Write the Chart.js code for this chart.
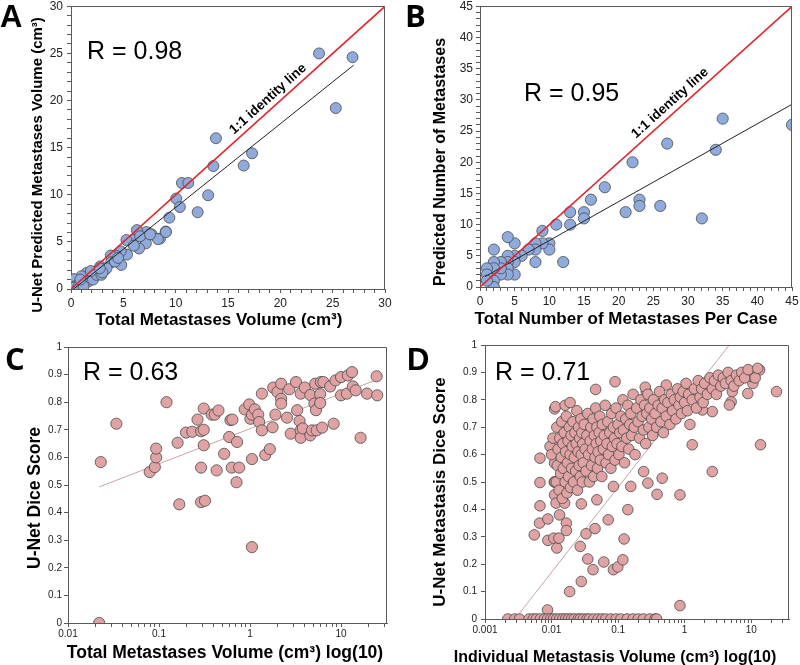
<!DOCTYPE html>
<html lang="en">
<head>
<meta charset="UTF-8">
<title>U-Net metastasis scatter plots</title>
<script src="https://cdn.jsdelivr.net/npm/chart.js"></script>
<style>
  body { margin: 0; background: #fff; }
  #wrap { position: relative; width: 800px; height: 665px; }
  canvas { position: absolute; }
</style>
</head>
<body>
<div id="wrap">
  <canvas id="chartA" width="400" height="330" style="left:0;top:0"></canvas>
  <canvas id="chartB" width="400" height="330" style="left:400px;top:0"></canvas>
  <canvas id="chartC" width="400" height="335" style="left:0;top:330px"></canvas>
  <canvas id="chartD" width="400" height="335" style="left:400px;top:330px"></canvas>
</div>
<script>
const FONT = 'Arial, "Liberation Sans", sans-serif';
const BLUE = '#8faadc', PINK = '#e0a2a2', EDGE = '#4a4a4a', AXIS = '#5a5a5a';

// A: total volume per case [true cm3, predicted cm3]
const volPoints = [[23.7,25.0],[26.9,24.6],[25.3,19.2],[13.85,16.0],[13.6,13.05],[17.3,14.4],[16.5,13.1],
  [10.6,11.25],[11.2,11.25],[10.05,9.6],[10.4,8.7],[13.1,9.95],[12.1,8.15],[9.4,7.57],[9.05,6.1],[8.5,5.35],
  [7.7,5.8],[7.2,6.05],[6.3,6.25],[7.15,4.85],[6.5,4.3],[5.9,5.2],[5.3,5.2],[5.35,3.65],[4.8,2.55],[4.75,4.0],
  [4.35,3.5],[3.8,3.55],[3.85,2.85],[3.25,2.05],[2.8,2.4],[2.3,1.85],[1.8,1.35],[1.5,1.7],[1.0,1.35],[0.55,0.8],
  [0.3,1.05],[0.05,0],[0.4,0.3],[0.85,0.6],[1.35,0.65],[1.65,0.8],[2.1,1.0],[2.45,1.5],[2.9,1.5],[3.4,2.2],
  [4.2,2.9],[0.2,0.15],[0.7,0.25],[1.2,0.3],[6.0,4.6],[8.3,5.3],[6.6,5.6],[1.9,1.9],[3.0,1.75],[4.5,3.3],
  [0.9,1.0],[2.75,2.2],[7.55,5.8],[9.07,6.05]];
const volFit = [[0.25,0],[27,23.75]];
const volIdentity = [[0,0],[30,30]];

// B: number of metastases per case [true, predicted]
const countPoints = [[45,26],[35,27],[34,22],[32,11],[27,23],[22,20],[21,12],[26,13],[23,14],[23,13],[18,16],
  [16,14],[15,12],[15,11],[13,12],[13,10],[11,10],[12,4],[9,9],[10,7],[10,6],[9,7],[8,7],[8,6],[8,4],[7,6],
  [6,5],[5,7],[4,8],[5,5],[5,4],[5,2],[4,5],[4,4],[4,3],[4,2],[3,4],[3,2],[3,3],[2,6],[2,4],[2,3],[2,1],[2,0],
  [1,3],[1,2],[1,1]];
const countFit = [[0.7,1.65],[45,29.3]];
const countIdentity = [[0,0],[45,45]];

// C: dice per case vs total volume [cm3, dice]
const casePoints = [[0.022,0],[0.0229,0.583],[0.034,0.722],[0.121,0.80],[0.079,0.547],[0.090,0.565],[0.093,0.60],
  [0.093,0.632],[0.16,0.653],[0.167,0.43],[0.198,0.69],[0.232,0.693],[0.265,0.737],[0.29,0.695],[0.31,0.70],
  [0.31,0.777],[0.31,0.644],[0.29,0.563],[0.29,0.438],[0.32,0.443],[0.38,0.755],[0.41,0.755],[0.45,0.77],
  [0.43,0.553],[0.52,0.613],[0.59,0.674],[0.61,0.735],[0.64,0.737],[0.63,0.563],[0.72,0.656],[0.76,0.563],
  [0.71,0.51],[0.875,0.774],[0.98,0.792],[1.01,0.74],[1.05,0.755],[1.05,0.594],[1.05,0.275],[1.13,0.774],
  [1.23,0.755],[1.26,0.728],[1.35,0.698],[1.35,0.831],[1.47,0.609],[1.65,0.63],[1.77,0.709],[1.9,0.755],
  [1.8,0.853],[2.0,0.837],[2.2,0.867],[2.2,0.812],[2.2,0.795],[2.55,0.744],[2.7,0.847],[2.8,0.686],[3.2,0.873],
  [3.3,0.771],[3.5,0.732],[3.6,0.831],[3.6,0.698],[3.6,0.671],[3.8,0.705],[4.0,0.853],[4.6,0.826],[4.6,0.68],
  [4.8,0.698],[5.1,0.795],[5.2,0.867],[5.3,0.771],[5.4,0.698],[5.9,0.829],[5.9,0.797],[6.0,0.873],[6.2,0.708],
  [6.4,0.873],[7.6,0.857],[8.3,0.722],[8.7,0.879],[10,0.891],[10,0.825],[11.6,0.831],[11.9,0.897],[13.2,0.909],
  [13.5,0.857],[14.5,0.843],[16.4,0.671],[19.3,0.831],[24.6,0.894],[25,0.825]];
const caseFit = [[0.022,0.493],[25,0.882]];

// D: dice per lesion vs lesion volume [cm3, dice]
const lesionPoints = [[0.0055,0.307],[0.0066,0.35],[0.0067,0.413],[0.0067,0.498],[0.0067,0.587],[0.0088,0.365],
  [0.0088,0.287],[0.0087,0.033],[0.0111,0.767],[0.0115,0.775],[0.0108,0.295],[0.012,0.259],[0.0129,0.295],
  [0.0111,0.569],[0.0111,0.453],[0.0117,0.423],[0.0111,0.636],[0.0132,0.38],[0.0154,0.52],[0.0157,0.423],
  [0.0167,0.35],[0.0167,0.323],[0.0187,0.10],[0.016,0.78],[0.019,0.79],[0.028,0.137],[0.027,0.265],[0.028,0.42],
  [0.035,0.219],[0.033,0.311],[0.045,0.33],[0.042,0.18],[0.046,0.838],[0.048,0.435],[0.061,0.208],[0.071,0.362],
  [0.085,0.484],[0.085,0.18],[0.09,0.866],[0.099,0.19],[0.118,0.216],[0.123,0.292],[0.14,0.399],[0.155,0.484],
  [0.242,0.538],[0.28,0.496],[0.46,0.514],[0.385,0.455],[0.85,0.453],[0.85,0.049],[2.6,0.538],[13.8,0.636],
  [1.3,0.636],[0.53,0.854],[0.265,0.83],[0.256,0.846],[24,0.83],[11.2,0.903],[13.4,0.909],[8.9,0.823],[5.0,0.793],
  [4.7,0.781],[2.6,0.757],[1.85,0.763],[5.2,0.83],[10.6,0.86],[10,0.885],
  [0.0095,0.63],[0.010,0.6],[0.0105,0.66],[0.011,0.5],[0.0112,0.5],[0.0118,0.5],[0.012,0.7],[0.0122,0.56],
  [0.0125,0.62],[0.013,0.47],[0.0133,0.66],[0.0137,0.53],[0.014,0.59],[0.0142,0.72],[0.0145,0.44],[0.0148,0.64],
  [0.015,0.55],[0.0155,0.68],[0.016,0.5],[0.0163,0.61],[0.0167,0.74],[0.017,0.46],[0.0173,0.57],[0.0177,0.65],
  [0.018,0.52],[0.0185,0.7],[0.019,0.6],[0.0193,0.48],[0.0197,0.67],[0.02,0.55],[0.0205,0.63],[0.021,0.72],
  [0.0215,0.5],[0.022,0.59],[0.0225,0.68],[0.023,0.54],[0.0235,0.64],[0.024,0.76],[0.0245,0.47],[0.025,0.61],
  [0.0255,0.7],[0.026,0.56],[0.0265,0.66],[0.027,0.52],[0.0275,0.73],[0.028,0.6],[0.0285,0.68],[0.029,0.5],
  [0.0295,0.64],[0.03,0.57],[0.031,0.71],[0.032,0.62],[0.033,0.54],[0.034,0.67],[0.035,0.75],[0.036,0.6],
  [0.037,0.5],[0.038,0.65],[0.039,0.7],[0.04,0.56],[0.041,0.62],[0.042,0.73],[0.043,0.52],[0.044,0.67],
  [0.045,0.59],[0.046,0.77],[0.047,0.64],[0.048,0.7],[0.049,0.55],[0.05,0.61],[0.052,0.68],[0.053,0.74],
  [0.054,0.58],[0.055,0.65],[0.057,0.52],[0.058,0.71],[0.06,0.62],[0.062,0.67],[0.064,0.78],[0.066,0.57],
  [0.068,0.64],[0.07,0.72],[0.072,0.6],[0.075,0.68],[0.078,0.55],[0.08,0.75],[0.082,0.63],[0.085,0.7],
  [0.088,0.66],[0.09,0.58],[0.093,0.77],[0.096,0.64],[0.1,0.71],[0.103,0.6],[0.106,0.68],[0.11,0.74],
  [0.114,0.63],[0.118,0.8],[0.12,0.69],[0.125,0.57],[0.13,0.73],[0.135,0.66],[0.14,0.78],[0.145,0.62],
  [0.15,0.71],[0.155,0.75],[0.16,0.67],[0.168,0.82],[0.175,0.7],[0.18,0.6],[0.19,0.77],[0.2,0.72],[0.21,0.66],
  [0.22,0.8],[0.23,0.74],[0.24,0.69],[0.25,0.78],[0.26,0.64],[0.27,0.75],[0.28,0.82],[0.29,0.7],[0.3,0.77],
  [0.32,0.73],[0.33,0.67],[0.34,0.8],[0.36,0.75],[0.38,0.7],[0.4,0.78],[0.42,0.83],[0.44,0.72],[0.46,0.77],
  [0.48,0.68],[0.5,0.8],[0.53,0.74],[0.56,0.79],[0.6,0.71],[0.63,0.82],[0.66,0.76],[0.7,0.8],[0.74,0.73],
  [0.78,0.84],[0.82,0.78],[0.86,0.81],[0.9,0.75],[0.95,0.83],[1.0,0.79],[1.05,0.86],[1.1,0.76],[1.15,0.82],
  [1.2,0.71],[1.3,0.8],[1.4,0.84],[1.5,0.77],[1.6,0.87],[1.7,0.81],[1.8,0.84],[1.9,0.79],[2.0,0.86],[2.2,0.82],
  [2.4,0.88],[2.6,0.84],[2.8,0.87],[3.0,0.82],[3.2,0.89],[3.5,0.85],[3.8,0.88],[4.1,0.86],[4.5,0.9],[5.0,0.87],
  [5.5,0.85],[6.0,0.89],[6.6,0.87],[7.2,0.9],[8.0,0.88],[9.0,0.91],[11.5,0.88],[12.5,0.915]];
// lesions the network missed completely (dice = 0)
const missedVol = [0.0022,0.0028,0.0033,0.0046,0.0053,0.0059,0.0068,0.0078,0.0087,0.0097,0.0107,0.0119,0.0132,
  0.0147,0.0163,0.018,0.02,0.022,0.025,0.027,0.03,0.034,0.037,0.043,0.05,0.057,0.065,0.078,0.093,0.11,0.137,
  0.168,0.2,0.24,0.3,0.36,0.38];
const lesionFit = [[0.0033,0.021],[4.7,1.0]];

const toXY = arr => arr.map(p => ({ x: p[0], y: p[1] }));

// text drawn on each canvas: [text, x, y, font, align, rotation, baseline]
const texts = {
  chartA: [
    ['A', 0, 27, 'bold 31px ' + FONT, 'left', 0, 'alphabetic'],
    ['R = 0.98', 87, 52, '25px ' + FONT, 'left'],
    ['1:1 identity line', 268, 99, 'bold 13.5px ' + FONT, 'center', -42],
    ['Total Metastases Volume (cm³)', 219, 320, 'bold 17px ' + FONT, 'center'],
    ['U-Net Predicted Metastases Volume (cm³)', 38, 165, 'bold 15px ' + FONT, 'center', -90]
  ],
  chartB: [
    ['B', 5, 27, 'bold 31px "Open Sans", ' + FONT, 'left', 0, 'alphabetic'],
    ['R = 0.95', 124, 94, '25px ' + FONT, 'left'],
    ['1:1 identity line', 270, 103, 'bold 13.5px ' + FONT, 'center', -42],
    ['Total Number of Metastases Per Case', 226, 319, 'bold 17px ' + FONT, 'center'],
    ['Predicted Number of Metastases', 41, 162, 'bold 16px ' + FONT, 'center', -90]
  ],
  chartC: [
    ['C', 5, 40, 'bold 31px "Open Sans", ' + FONT, 'left', 0, 'alphabetic'],
    ['R = 0.63', 83, 43, '25px ' + FONT, 'left'],
    ['Total Metastases Volume (cm³) log(10)', 225, 323, 'bold 17.5px ' + FONT, 'center'],
    ['U-Net Dice Score', 35, 168, 'bold 17.5px ' + FONT, 'center', -90]
  ],
  chartD: [
    ['D', 7, 40, 'bold 31px ' + FONT, 'left', 0, 'alphabetic'],
    ['R = 0.71', 95, 43, '25px ' + FONT, 'left'],
    ['Individual Metastasis Volume (cm³) log(10)', 215, 328, 'bold 16px ' + FONT, 'center'],
    ['U-Net Metastasis Dice Score', 40, 162, 'bold 17px ' + FONT, 'center', -90]
  ]
};

const overlay = {
  id: 'overlay',
  afterDraw(chart) {
    const ctx = chart.ctx, a = chart.chartArea;
    ctx.save();
    // close the box on top and right
    ctx.strokeStyle = AXIS;
    ctx.lineWidth = 1;
    ctx.beginPath();
    ctx.moveTo(Math.round(a.left) + 0.5, Math.round(a.top) + 0.5);
    ctx.lineTo(Math.round(a.right) - 0.5, Math.round(a.top) + 0.5);
    ctx.lineTo(Math.round(a.right) - 0.5, Math.round(a.bottom) + 0.5);
    ctx.stroke();
    ctx.fillStyle = '#000';
    (texts[chart.canvas.id] || []).forEach(t => {
      ctx.save();
      ctx.font = t[3];
      ctx.textAlign = t[4] || 'center';
      ctx.textBaseline = t[6] || 'middle';
      ctx.translate(t[1], t[2]);
      if (t[5]) ctx.rotate(t[5] * Math.PI / 180);
      ctx.fillText(t[0], 0, 0);
      ctx.restore();
    });
    ctx.restore();
  }
};

function baseAxis(opts, tickOpts) {
  return Object.assign({
    border: { color: AXIS, width: 1 },
    grid: { drawOnChartArea: false, drawTicks: true, tickLength: 4, color: AXIS }
  }, opts, {
    ticks: Object.assign({ autoSkip: false, maxRotation: 0, color: '#222' }, tickOpts)
  });
}

function linearAxis(min, max, step, every, size, pad) {
  return baseAxis({ type: 'linear', min: min, max: max }, {
    stepSize: step, padding: pad, font: { family: FONT, size: size },
    callback: v => (Math.abs(v / every - Math.round(v / every)) < 1e-6 ? Number(v.toFixed(2)) : '')
  });
}

function logTicks(min, max) {
  const out = [];
  for (let e = Math.floor(Math.log10(min)); e <= Math.ceil(Math.log10(max)); e++) {
    for (let s = 1; s <= 9; s++) {
      const v = Number((s * Math.pow(10, e)).toPrecision(2));
      if (v >= min * 0.999 && v <= max * 1.001) out.push(v);
    }
  }
  return out;
}

function logAxis(min, max) {
  const axis = baseAxis({ type: 'logarithmic', min: min, max: max }, {
    padding: 1, font: { family: FONT, size: 10 },
    callback: v => {
      const e = Math.log10(v);
      return Math.abs(e - Math.round(e)) < 1e-9 ? String(Number(v.toPrecision(1))) : '';
    }
  });
  axis.afterBuildTicks = s => { s.ticks = logTicks(min, max).map(v => ({ value: v })); };
  return axis;
}

function makeChart(id, box, datasets, xScale, yScale) {
  const canvas = document.getElementById(id);
  xScale.afterFit = s => { s.height = canvas.height - box.bottom; s.paddingLeft = 0; s.paddingRight = 0; };
  yScale.afterFit = s => { s.width = box.left; s.paddingTop = 0; s.paddingBottom = 0; };
  return new Chart(canvas, {
    type: 'scatter',
    data: { datasets: datasets },
    options: {
      responsive: false,
      animation: false,
      devicePixelRatio: 1,
      events: [],
      layout: { padding: { left: 0, top: box.top, right: canvas.width - box.right, bottom: 0 } },
      plugins: { legend: { display: false }, tooltip: { enabled: false } },
      scales: { x: xScale, y: yScale }
    },
    plugins: [overlay]
  });
}

function dots(data, fill, r) {
  return { data: data, pointBackgroundColor: fill, pointBorderColor: EDGE, pointBorderWidth: 0.8,
    pointRadius: r, order: 2 };
}
function line(data, color, width, order) {
  return { data: toXY(data), showLine: true, borderColor: color, borderWidth: width, pointRadius: 0, order: order };
}

makeChart('chartA', { left: 71, top: 5, right: 385, bottom: 289 }, [
  line(volIdentity, '#e3262b', 1.6, 0),
  line(volFit, '#222', 1, 1),
  dots(toXY(volPoints), BLUE, 5.5)
], linearAxis(0, 30, 1, 5, 12, 3), linearAxis(0, 30, 1, 5, 12, 4));

makeChart('chartB', { left: 80, top: 5, right: 392, bottom: 287 }, [
  line(countIdentity, '#e3262b', 1.6, 0),
  line(countFit, '#222', 1, 1),
  dots(toXY(countPoints), BLUE, 5.6)
], linearAxis(0, 45, 1, 5, 12, 3), linearAxis(0, 45, 1, 5, 12, 3));

makeChart('chartC', { left: 68, top: 17, right: 387, bottom: 293 }, [
  dots(toXY(casePoints), PINK, 5.6),
  line(caseFit, '#c9a3a3', 1, 3)
], logAxis(0.01, 32), linearAxis(0, 1, 0.1, 0.1, 10, 2));

makeChart('chartD', { left: 85, top: 15, right: 389, bottom: 289 }, [
  dots(toXY(lesionPoints).concat(missedVol.map(v => ({ x: v, y: 0 }))), PINK, 5.3),
  line(lesionFit, '#c9a3a3', 1, 3)
], logAxis(0.001, 37), linearAxis(0, 1, 0.1, 0.1, 10, 4));
</script>
</body>
</html>
